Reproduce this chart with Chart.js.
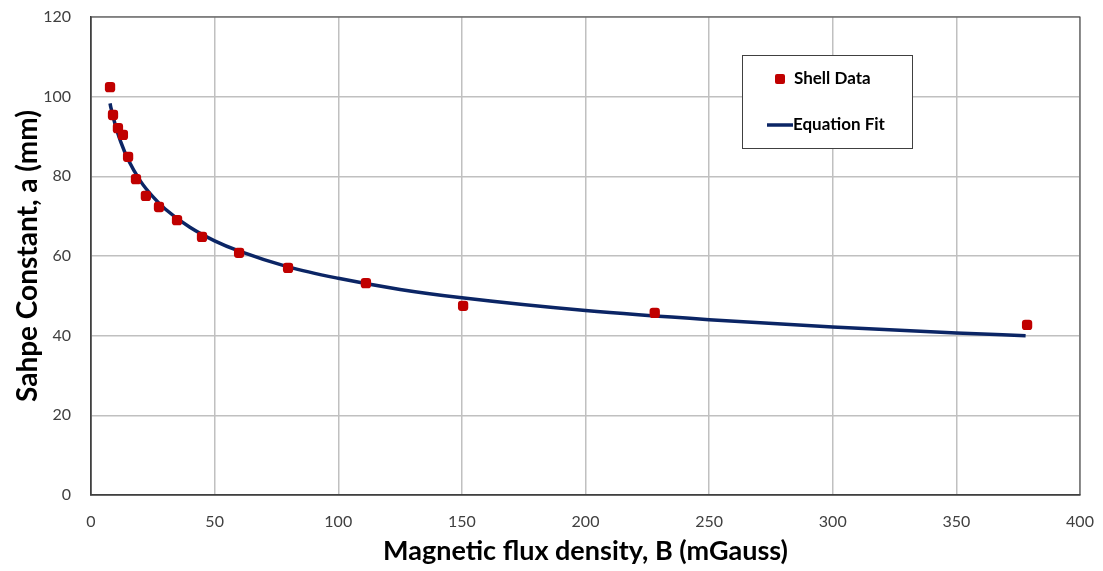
<!DOCTYPE html>
<html>
<head>
<meta charset="utf-8">
<script src="https://cdn.jsdelivr.net/npm/chart.js@4.4.1/dist/chart.umd.min.js"></script>
<style>
  html, body { margin: 0; padding: 0; background: #fff; }
  #wrap { width: 1103px; height: 571px; position: relative; }
</style>
</head>
<body>
<div id="wrap"><canvas id="chart" width="1103" height="571"></canvas></div>
<script>
// Shell data
const shellB = [7.7, 8.9, 10.9, 12.9, 15.0, 18.2, 22.2, 27.5, 34.8, 44.9, 59.9, 79.7, 111.2, 150.5, 228.0, 378.6];
const shellA = [102.4, 95.4, 92.1, 90.4, 84.9, 79.3, 75.1, 72.3, 69.0, 64.8, 60.8, 57.0, 53.2, 47.5, 45.7, 42.7];

// Equation fit curve
const fitB = [7.7, 8, 10, 12, 15, 20, 25, 30, 40, 50, 60, 80, 100, 125, 150, 200, 250, 300, 350, 378];
const fitA = [98.3, 97.4, 92.5, 88.7, 84.2, 78.8, 74.9, 71.8, 67.2, 63.8, 61.2, 57.2, 54.4, 51.6, 49.5, 46.3, 44.0, 42.2, 40.7, 40.0];

const xTicks = [0, 50, 100, 150, 200, 250, 300, 350, 400];
const yTicks = [0, 20, 40, 60, 80, 100, 120];

const labelFont = 'Lato, "Open Sans", sans-serif';

const legendBox = {
    id: 'legendBox',
    afterDraw(chart) {
        const ctx = chart.ctx;
        const x = 742, y = 55, w = 170, h = 93;
        ctx.save();
        ctx.fillStyle = '#fff';
        ctx.fillRect(x, y, w, h);
        ctx.strokeStyle = '#404040';
        ctx.lineWidth = 1;
        ctx.strokeRect(x + 0.5, y + 0.5, w, h);

        ctx.fillStyle = '#C00000';
        ctx.beginPath();
        ctx.roundRect(775, 74, 10, 10, 2);
        ctx.fill();

        ctx.strokeStyle = '#0B2565';
        ctx.lineWidth = 3.5;
        ctx.beginPath();
        ctx.moveTo(767, 125);
        ctx.lineTo(793, 125);
        ctx.stroke();

        ctx.fillStyle = '#000';
        ctx.font = 'bold 17px ' + labelFont;
        ctx.textBaseline = 'middle';
        ctx.fillText('Shell Data', 794, 79);
        ctx.fillText('Equation Fit', 793, 125);
        ctx.restore();
    }
};

new Chart(document.getElementById('chart'), {
    type: 'scatter',
    data: {
        datasets: [
            {
                label: 'Equation Fit',
                data: fitB.map((b, i) => ({ x: b, y: fitA[i] })),
                showLine: true,
                borderColor: '#0B2565',
                borderWidth: 3.5,
                pointRadius: 0,
                cubicInterpolationMode: 'monotone',
                order: 2
            },
            {
                label: 'Shell Data',
                data: shellB.map((b, i) => ({ x: b, y: shellA[i] })),
                pointStyle: 'rectRounded',
                pointRadius: 6,
                backgroundColor: '#C00000',
                borderColor: '#C00000',
                borderWidth: 0,
                order: 1
            }
        ]
    },
    options: {
        responsive: false,
        animation: false,
        layout: { padding: { top: 17, right: 23, left: 0, bottom: 0 } },
        plugins: {
            legend: { display: false },
            tooltip: { enabled: false }
        },
        scales: {
            x: {
                type: 'linear',
                min: 0,
                max: 400,
                afterBuildTicks: s => { s.ticks = xTicks.map(v => ({ value: v })); },
                afterFit: s => { s.height = 76; s.paddingLeft = 0; s.paddingRight = 0; },
                grid: { color: '#c0c0c0', lineWidth: 1.5, drawTicks: false },
                border: { color: '#404040', width: 1.5 },
                ticks: { padding: 17, color: '#404040', font: { family: labelFont, size: 16 } },
                title: {
                    display: true,
                    text: 'Magnetic flux density, B (mGauss)',
                    color: '#000',
                    font: { family: labelFont, size: 27, weight: 'bold' },
                    padding: { top: 2 }
                }
            },
            y: {
                min: 0,
                max: 120,
                afterBuildTicks: s => { s.ticks = yTicks.map(v => ({ value: v })); },
                afterFit: s => { s.width = 91; s.paddingTop = 0; s.paddingBottom = 0; },
                grid: { color: '#c0c0c0', lineWidth: 1.5, drawTicks: false },
                border: { color: '#404040', width: 1.5 },
                ticks: { padding: 20, color: '#404040', font: { family: labelFont, size: 16 } },
                title: {
                    display: true,
                    text: 'Sahpe Constant, a (mm)',
                    color: '#000',
                    font: { family: labelFont, size: 28, weight: 'bold' },
                    padding: { top: 11, bottom: 0 }
                }
            }
        }
    },
    plugins: [legendBox, {
        id: 'frame',
        afterDraw(chart) {
            const a = chart.chartArea, ctx = chart.ctx;
            ctx.save();
            ctx.strokeStyle = '#404040';
            ctx.lineWidth = 1;
            ctx.strokeRect(a.left, a.top, a.right - a.left, a.bottom - a.top);
            ctx.restore();
        }
    }]
});
</script>
</body>
</html>
